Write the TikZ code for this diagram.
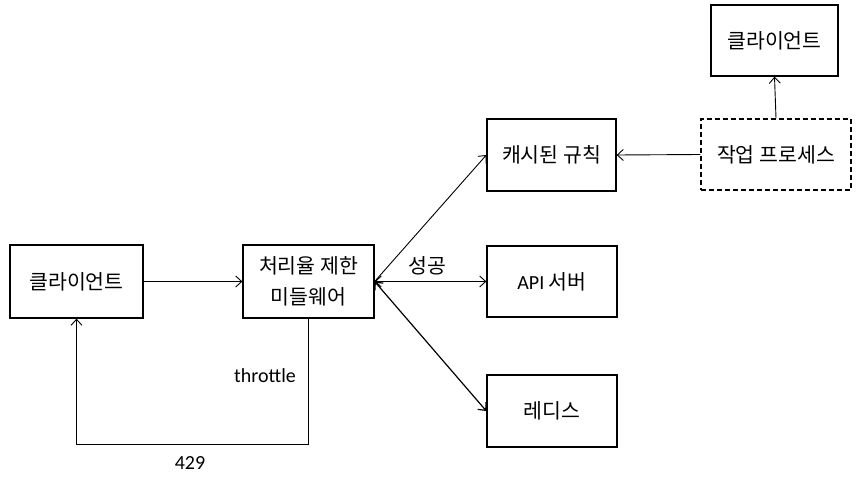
\documentclass[tikz,border=0pt]{standalone}
\usepackage{fontspec}
\setmainfont{Carlito}
\newfontfamily\kr{Noto Sans CJK KR}
\usepackage{tikz}
\usetikzlibrary{arrows.meta}

\begin{document}
\begin{tikzpicture}[x=1pt, y=-1pt,
	every node/.style={font=\kr\fontsize{20.5}{31}\selectfont, align=center},
	box/.style={draw=black, line width=1.3pt, minimum width=130pt, minimum height=72pt, inner sep=0pt},
	conn/.style={line width=0.9pt, -{Straight Barb[length=6pt, width=11pt]}},
	conn2/.style={line width=0.9pt, {Straight Barb[length=6pt, width=11pt]}-{Straight Barb[length=6pt, width=11pt]}},
	lbl/.style={font=\fontsize{20}{22}\selectfont}]
	\useasboundingbox (0,0) rectangle (866,481);
	\node (topclient) at (774.5,40.5) [box, minimum width=127pt, minimum height=71pt] {클라이언트};
	\node (cache) at (551.5,155) [box, minimum width=129pt] {캐시된 규칙};
	\node (worker) at (776,154.5) [box, dash pattern=on 5pt off 3pt, minimum width=150pt, minimum height=71pt] {작업 프로세스};
	\node (client) at (76.5,281.5) [box, minimum width=133pt, minimum height=73pt] {클라이언트};
	\node (limiter) at (308.5,281.5) [box, minimum width=131pt, minimum height=73pt] {처리율 제한\\미들웨어};
	\node (api) at (552,281.5) [box, minimum height=71pt] {{\rmfamily\fontsize{20}{22}\selectfont API} 서버};
	\node (redis) at (552,411) [box] {레디스};
	\coordinate (turnA) at (limiter.south |- 0,444);
	\coordinate (turnB) at (client.south |- 0,444);
	\draw[conn] (worker.north) -- (topclient.south);
	\draw[conn] (worker.west) -- (cache.west -| cache.east);
	\draw[conn] (client.east) -- (limiter.west);
	\draw[conn] (limiter.east) -- (cache.west);
	\draw[conn2] (limiter.east) -- (api.west);
	\draw[conn2, line width=1.2pt] (limiter.east) -- (redis.west);
	\draw[conn] (limiter.south) -- (turnA) -- (turnB) -- (client.south);
	\node (ok) at (427,266) {성공};
	\node (throttle) at (265,376) [lbl] {throttle};
	\node (code) at (190,463) [lbl] {429};
\end{tikzpicture}
\end{document}
